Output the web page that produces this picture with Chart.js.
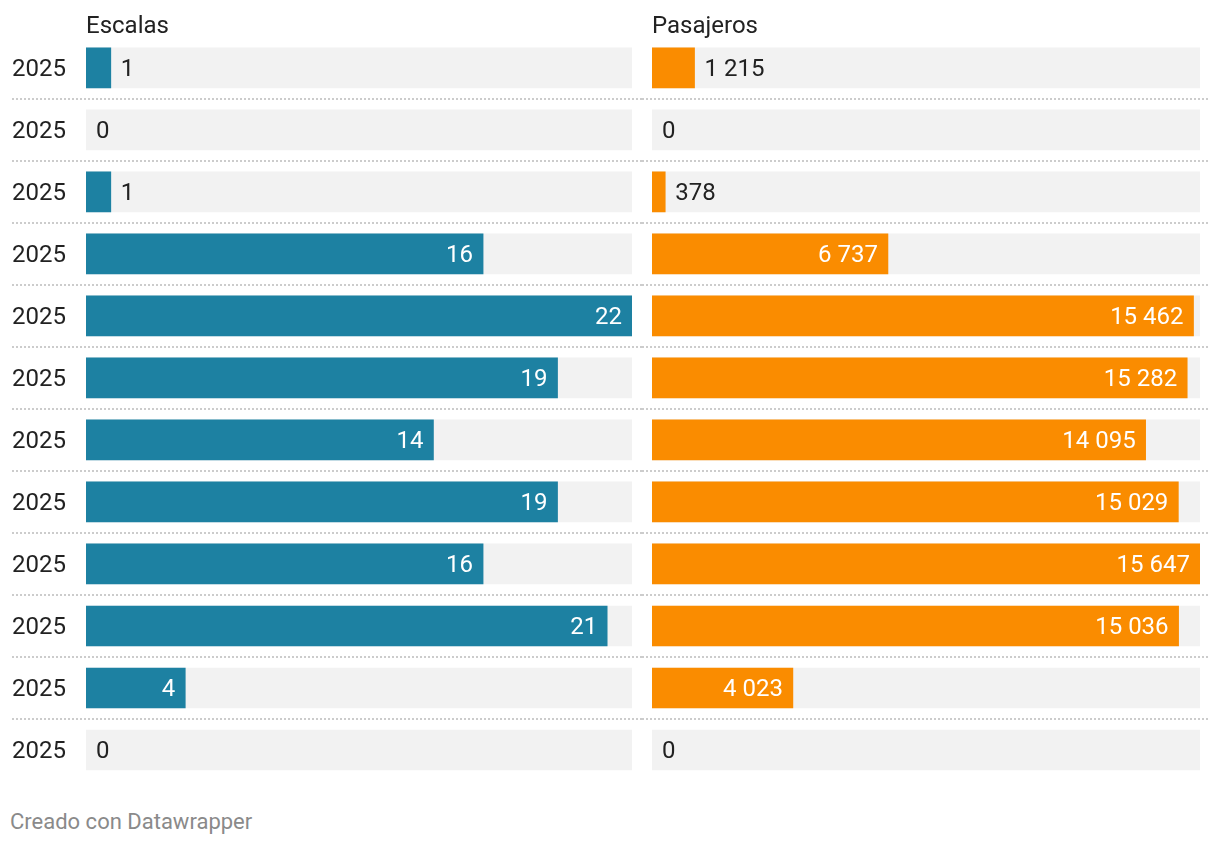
<!DOCTYPE html>
<html>
<head>
<meta charset="utf-8">
<script src="https://cdn.jsdelivr.net/npm/chart.js@4/dist/chart.umd.min.js"></script>
<style>
  html, body { margin: 0; padding: 0; background: #ffffff; }
  #wrap { position: relative; width: 1220px; height: 846px; overflow: hidden; font-family: Roboto, sans-serif; }
  #left { position: absolute; left: 0; top: 0; width: 642px; height: 800px; }
  #right { position: absolute; left: 642px; top: 0; width: 578px; height: 800px; }
  #footer { position: absolute; left: 10px; top: 809px; font-size: 22px; line-height: 26px; color: #8a8a8a; }
</style>
</head>
<body>
<div id="wrap">
  <div id="left"><canvas id="c1"></canvas></div>
  <div id="right"><canvas id="c2"></canvas></div>
  <div id="footer">Creado con Datawrapper</div>
</div>
<script>
// ---- data ----
const rowLabels = ["2025","2025","2025","2025","2025","2025","2025","2025","2025","2025","2025","2025"];
const escalas = [1, 0, 1, 16, 22, 19, 14, 19, 16, 21, 4, 0];
const pasajeros = [1215, 0, 378, 6737, 15462, 15282, 14095, 15029, 15647, 15036, 4023, 0];
const titles = ["Escalas", "Pasajeros"];
const colors = ["#1d81a2", "#fa8c00"];

const FONT = "Roboto, 'Noto Sans', sans-serif";
const TEXT = "#222222";

function fmt(v) {
  return String(v).replace(/\B(?=(\d{3})+(?!\d))/g, " ");
}

const separators = {
  id: "separators",
  beforeDatasetsDraw(chart, args, opts) {
    const y = chart.scales.y;
    const ctx = chart.ctx;
    ctx.save();
    ctx.strokeStyle = "#cccccc";
    ctx.lineWidth = 2;
    ctx.setLineDash([2, 2]);
    for (let i = 0; i < chart.data.labels.length - 1; i++) {
      const py = Math.round((y.getPixelForValue(i) + y.getPixelForValue(i + 1)) / 2);
      ctx.beginPath();
      ctx.moveTo(opts.x0, py);
      ctx.lineTo(opts.x1, py);
      ctx.stroke();
    }
    ctx.restore();
  }
};

const valueLabels = {
  id: "valueLabels",
  afterDatasetsDraw(chart) {
    const ctx = chart.ctx;
    const meta = chart.getDatasetMeta(0);
    const data = chart.data.datasets[0].data;
    ctx.save();
    ctx.font = "24px " + FONT;
    ctx.textBaseline = "middle";
    meta.data.forEach((bar, i) => {
      const txt = fmt(data[i]);
      const w = ctx.measureText(txt).width;
      const barW = bar.x - bar.base;
      if (barW > w + 20) {
        ctx.fillStyle = "#ffffff";
        ctx.textAlign = "right";
        ctx.fillText(txt, bar.x - 10, bar.y + 2);
      } else {
        ctx.fillStyle = TEXT;
        ctx.textAlign = "left";
        ctx.fillText(txt, bar.x + 10, bar.y + 2);
      }
    });
    ctx.restore();
  }
};

function makeChart(id, values, title, color, showY, padding, sepX0, sepX1) {
  const maxV = Math.max(...values);
  return new Chart(document.getElementById(id), {
    type: "bar",
    data: {
      labels: rowLabels,
      datasets: [
        {
          data: values,
          backgroundColor: (c) => (c.raw === 0 ? "rgba(0,0,0,0)" : color),
          barThickness: 40, grouped: false, order: 1
        },
        { data: values.map(() => maxV), backgroundColor: "#f2f2f2", barThickness: 40, grouped: false, order: 2 }
      ]
    },
    options: {
      indexAxis: "y",
      responsive: true,
      maintainAspectRatio: false,
      animation: false,
      events: [],
      layout: { padding: padding },
      scales: {
        x: { display: false, min: 0, max: maxV },
        y: {
          display: showY,
          grid: { display: false },
          border: { display: false },
          ticks: { font: { family: FONT, size: 24 }, color: TEXT, crossAlign: "far", padding: 0, labelOffset: 2 },
          afterFit(scale) { if (showY) scale.width = 74; }
        }
      },
      plugins: {
        legend: { display: false },
        tooltip: { enabled: false },
        title: {
          display: true, text: title, align: "start", fullSize: false,
          color: TEXT, font: { family: FONT, size: 24, weight: "normal", lineHeight: 1.2 },
          padding: { top: 13, bottom: -5 }
        },
        separators: { x0: sepX0, x1: sepX1 }
      }
    },
    plugins: [separators, valueLabels]
  });
}

makeChart("c1", escalas, titles[0], colors[0], true, { left: 12, right: 10, top: 0, bottom: 19 }, 12, 642);
makeChart("c2", pasajeros, titles[1], colors[1], false, { left: 10, right: 20, top: 0, bottom: 19 }, 0, 566);
</script>
</body>
</html>
